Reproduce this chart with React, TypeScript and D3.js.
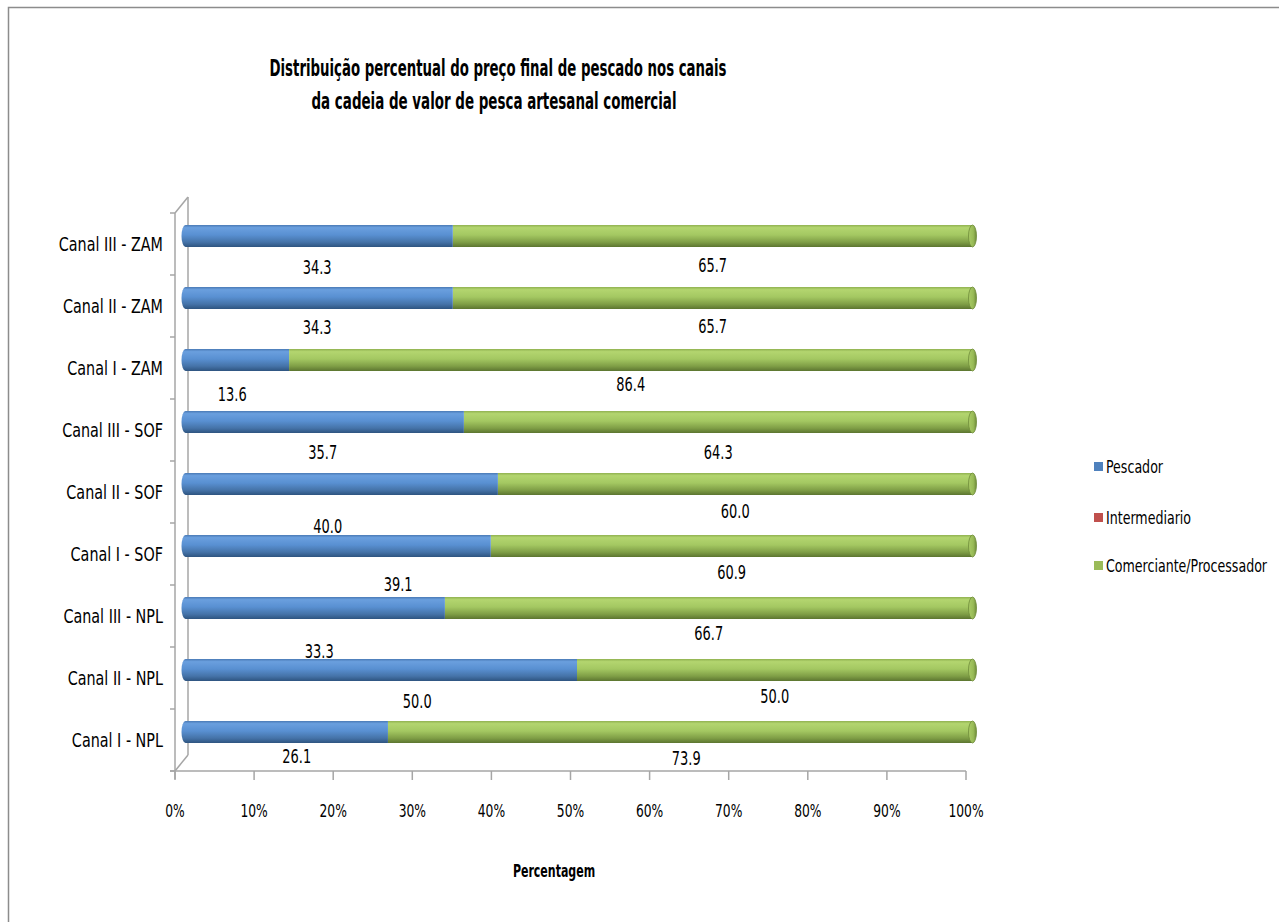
import React from "react";
import * as d3 from "d3";

// Channels (bottom to top of the chart)
const categories = [
  "Canal I - NPL",
  "Canal II - NPL",
  "Canal III - NPL",
  "Canal I - SOF",
  "Canal II - SOF",
  "Canal III - SOF",
  "Canal I - ZAM",
  "Canal II - ZAM",
  "Canal III - ZAM",
];

const seriesNames = ["Pescador", "Intermediario", "Comerciante/Processador"];

const pescador = [26.1, 50.0, 33.3, 39.1, 40.0, 35.7, 13.6, 34.3, 34.3];
const intermediario = [0, 0, 0, 0, 0, 0, 0, 0, 0];
const comerciante = [73.9, 50.0, 66.7, 60.9, 60.0, 64.3, 86.4, 65.7, 65.7];

const xTicks = [0, 10, 20, 30, 40, 50, 60, 70, 80, 90, 100];

// Hand-placed data label offsets [dx, dy] from the default spot under each segment
const pescadorLabelNudge: [number, number][] = [
  [12, -6], [38, 1], [6, 13], [62, 8], [-12, 12], [0, 0], [-3, 4], [0, -1], [0, 1],
];
const comercianteLabelNudge: [number, number][] = [
  [6, -4], [0, -4], [0, -5], [0, -4], [0, -3], [0, 0], [0, -6], [0, -2], [0, -1],
];

const W = 1279;
const H = 922;

const frontLeft = 175;
const frontRight = 966;
const plotTop = 213;
const plotBottom = 771;
const depthX = 13;
const depthY = -16;

const FONT = "'Liberation Sans Narrow', 'Arial Narrow', 'DejaVu Sans Condensed', sans-serif";
const AXIS = "#a6a6a6";

const colors = {
  blue: "#4F81BD",
  red: "#C0504D",
  green: "#9BBB59",
};

// Text squeezed horizontally around its anchor point
function NText(props: {
  x: number;
  y: number;
  sx: number;
  size: number;
  anchor?: "start" | "middle" | "end";
  bold?: boolean;
  children: React.ReactNode;
}) {
  const { x, y, sx, size, anchor = "start", bold, children } = props;
  return (
    <text
      transform={`translate(${x},${y}) scale(${sx},1)`}
      textAnchor={anchor}
      fontFamily={FONT}
      fontSize={size}
      fontWeight={bold ? "bold" : "normal"}
      fill="#000"
      dy="0.35em"
    >
      {children}
    </text>
  );
}

export default function App() {
  const xFront = d3.scaleLinear().domain([0, 100]).range([frontLeft, frontRight]);
  const xBar = (v: number) => xFront(v) + depthX / 2;

  const y = d3
    .scaleBand<string>()
    .domain([...categories].reverse())
    .range([plotTop, plotBottom])
    .paddingInner(0)
    .paddingOuter(0);
  const bandCenter = (c: string) => (y(c) as number) + y.bandwidth() / 2;
  const barCenter = (c: string) => bandCenter(c) + depthY / 2;
  const barH = 22;

  const stack = d3.stack<number>().keys(["p", "i", "c"]).value((i, key) =>
    key === "p" ? pescador[i] : key === "i" ? intermediario[i] : comerciante[i]
  );
  const stacked = stack(categories.map((_, i) => i));

  const boundaries = d3.range(categories.length + 1).map((k) => plotTop + k * y.bandwidth());

  const segment = (
    key: string,
    x0: number,
    x1: number,
    cy: number,
    grad: string,
    leftRound: boolean,
    capGrad: string | null
  ) => {
    const top = cy - barH / 2;
    const r = 4;
    const els: React.ReactNode[] = [];
    if (x1 - x0 <= 0) return els;
    if (leftRound) {
      els.push(
        <path
          key={key + "-b"}
          d={`M${x0 + r},${top} L${x1},${top} L${x1},${top + barH} L${x0 + r},${top + barH} A${r},${barH / 2} 0 0 1 ${x0 + r},${top} Z`}
          fill={`url(#${grad})`}
        />
      );
    } else {
      els.push(<rect key={key + "-b"} x={x0} y={top} width={x1 - x0} height={barH} fill={`url(#${grad})`} />);
    }
    if (capGrad) {
      els.push(
        <ellipse
          key={key + "-c"}
          cx={x1}
          cy={cy}
          rx={r}
          ry={barH / 2}
          fill={`url(#${capGrad})`}
          stroke="#6f8c3a"
          strokeWidth={0.8}
        />
      );
    }
    return els;
  };

  return (
    <svg
      width={W}
      height={H}
      viewBox={`0 0 ${W} ${H}`}
      style={{ position: "absolute", left: 0, top: 0, background: "#fff" }}
    >
      <defs>
        <linearGradient id="gBlue" x1="0" y1="0" x2="0" y2="1">
          <stop offset="0" stopColor="#4a7ab5" />
          <stop offset="0.12" stopColor="#6a9fde" />
          <stop offset="0.45" stopColor="#5990d2" />
          <stop offset="0.78" stopColor="#4573a8" />
          <stop offset="1" stopColor="#2e5480" />
        </linearGradient>
        <linearGradient id="gGreen" x1="0" y1="0" x2="0" y2="1">
          <stop offset="0" stopColor="#90b150" />
          <stop offset="0.12" stopColor="#b3d56f" />
          <stop offset="0.45" stopColor="#a4c862" />
          <stop offset="0.78" stopColor="#7f9e46" />
          <stop offset="1" stopColor="#5c7530" />
        </linearGradient>
        <linearGradient id="gGreenCap" x1="0" y1="0" x2="1" y2="0">
          <stop offset="0" stopColor="#a9cb66" />
          <stop offset="0.6" stopColor="#98ba56" />
          <stop offset="1" stopColor="#6f8c3a" />
        </linearGradient>
      </defs>

      {/* chart area border */}
      <rect x={8.5} y={7.5} width={1400} height={1000} fill="none" stroke="#8c8c8c" strokeWidth={1.5} />

      {/* title */}
      <text
        x={498}
        y={76}
        textAnchor="middle"
        fontFamily={FONT}
        fontWeight="bold"
        fontSize={23}
        textLength={457}
        lengthAdjust="spacingAndGlyphs"
        fill="#000"
      >
        Distribuição percentual do preço final de pescado nos canais
      </text>
      <text
        x={494}
        y={109}
        textAnchor="middle"
        fontFamily={FONT}
        fontWeight="bold"
        fontSize={23}
        textLength={365}
        lengthAdjust="spacingAndGlyphs"
        fill="#000"
      >
        da cadeia de valor de pesca artesanal comercial
      </text>

      {/* category axis: front line, back edge and depth */}
      <g stroke={AXIS} strokeWidth={1.5} fill="none">
        <line x1={frontLeft} y1={plotTop} x2={frontLeft} y2={plotBottom + 8} />
        <line x1={frontLeft + depthX} y1={plotTop + depthY} x2={frontLeft + depthX} y2={plotBottom + depthY} />
        <line x1={frontLeft} y1={plotTop} x2={frontLeft + depthX} y2={plotTop + depthY} />
        <line x1={frontLeft} y1={plotBottom} x2={frontLeft + depthX} y2={plotBottom + depthY} />
        {boundaries.map((b, k) => (
          <line key={"yt" + k} x1={frontLeft - 5} y1={b} x2={frontLeft} y2={b} />
        ))}
        {/* value axis */}
        <line x1={frontLeft - 5} y1={plotBottom} x2={frontRight} y2={plotBottom} />
        {xTicks.map((t) => (
          <line key={"xt" + t} x1={xFront(t)} y1={plotBottom} x2={xFront(t)} y2={plotBottom + 9} />
        ))}
      </g>

      {/* cylinders */}
      {categories.map((c, i) => {
        const cy = barCenter(c);
        const p = stacked[0][i];
        const m = stacked[1][i];
        const q = stacked[2][i];
        return (
          <g key={c}>
            {segment(c + "g", xBar(q[0]), xBar(q[1]), cy, "gGreen", false, "gGreenCap")}
            {segment(c + "r", xBar(m[0]), xBar(m[1]), cy, "gGreen", false, null)}
            {segment(c + "p", xBar(p[0]), xBar(p[1]), cy, "gBlue", true, null)}
          </g>
        );
      })}

      {/* data labels */}
      {categories.map((c, i) => {
        const cy = barCenter(c) + 30;
        const p = stacked[0][i];
        const q = stacked[2][i];
        const [pdx, pdy] = pescadorLabelNudge[i];
        const [cdx, cdy] = comercianteLabelNudge[i];
        return (
          <g key={"lbl" + c}>
            <NText x={xBar((p[0] + p[1]) / 2) + pdx} y={cy + pdy} sx={0.76} size={19} anchor="middle">
              {pescador[i].toFixed(1)}
            </NText>
            <NText x={xBar((q[0] + q[1]) / 2) + cdx} y={cy + cdy} sx={0.76} size={19} anchor="middle">
              {comerciante[i].toFixed(1)}
            </NText>
          </g>
        );
      })}

      {/* category labels */}
      {categories.map((c) => (
        <NText key={"cat" + c} x={163} y={bandCenter(c)} sx={0.84} size={19} anchor="end">
          {c}
        </NText>
      ))}

      {/* tick labels */}
      {xTicks.map((t) => (
        <NText key={"xl" + t} x={xFront(t)} y={811} sx={0.76} size={18} anchor="middle">
          {t}%
        </NText>
      ))}

      {/* axis title */}
      <NText x={554} y={871} sx={0.72} size={17} anchor="middle" bold>
        Percentagem
      </NText>

      {/* legend */}
      {seriesNames.map((s, k) => {
        const cy = [467, 518, 566][k];
        const col = [colors.blue, colors.red, colors.green][k];
        return (
          <g key={"lg" + s}>
            <rect x={1094} y={cy - 5} width={9} height={9} fill={col} />
            <NText x={1106} y={cy} sx={0.78} size={18}>
              {s}
            </NText>
          </g>
        );
      })}
    </svg>
  );
}
